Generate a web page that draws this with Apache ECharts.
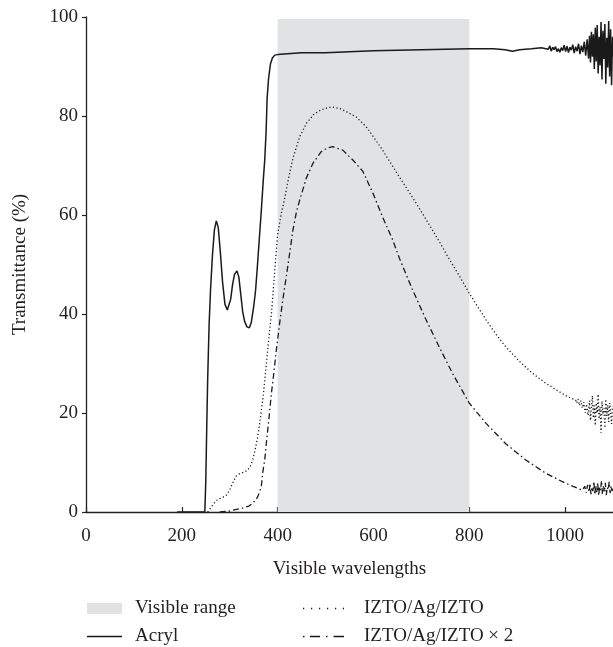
<!DOCTYPE html>
<html>
<head>
<meta charset="utf-8">
<script src="https://cdn.jsdelivr.net/npm/echarts@6/dist/echarts.min.js"></script>
<style>
html,body{margin:0;padding:0;background:#fff;}
#chart{width:613px;height:647px;}
</style>
</head>
<body>
<div id="chart"></div>
<script>
// ---- data ----
var seriesNames = ['Visible range', 'Acryl', 'IZTO/Ag/IZTO', 'IZTO/Ag/IZTO × 2'];
var visibleRange = [400, 800];
var xTickValues = [0, 200, 400, 600, 800, 1000];
var yTickValues = [0, 20, 40, 60, 80, 100];

var acrylX = [190,248,250,252,254,257,260,264,268,272,276,280,285,290,295,298,302,306,310,315,319,323,327,331,336,341,345,350,354,358,362,366,370,373,376,378,381,385,389,394,400,420,450,500,550,600,650,700,750,800,850,875,890,905,930,950,
  965,968,971,974,977,980,983,986,989,992,995,998,1001,1004,1007,1010,1013,1016,1019,1022,1025,1028,1031,1034,1037,1040,1043,1046,1049,1051,1053,1055,1057,1059,1061,1063,1065,1067,1069,1071,1073,1075,1077,1079,1081,1083,1085,1087,1089,1091,1093,1095,1097,1099,1100];
var acrylY = [0,0,6,17,27,38,45,52,57,58.8,57.5,53,46.5,42,40.8,41,43,46,48,48.7,47.5,44,40.5,38.5,37.4,37.2,38.3,41.5,44.8,50,55.5,61,67,71,77,83.5,87.5,90.5,91.7,92.3,92.4,92.6,92.8,92.8,93.0,93.2,93.3,93.4,93.5,93.6,93.6,93.4,93.1,93.4,93.6,93.8,
  93.5,94.2,93.1,93.9,93.4,94.0,93.0,93.6,92.9,93.8,93.2,94.3,93.0,94.1,92.8,93.9,93.3,94.4,92.7,94.0,93.1,94.6,92.5,94.2,92.9,95.0,92.2,95.5,91.6,96.2,90.8,97.0,92.0,96.5,89.5,97.8,91.0,98.4,88.6,96.0,90.2,99.0,87.4,97.2,91.5,98.6,86.5,95.8,89.8,99.2,88.0,97.5,86.2,96.0,92.0];

var iztoX = [254,260,265,272,279,286,293,300,307,313,320,328,335,342,348,353,358,362,366,370,374,378,382,387,391,395,400,407,415,423,432,446,460,475,490,505,515,530,545,564,585,600,619,636,654,672,689,706,723,740,755,778,800,818,835,855,876,904,932,960,988,1005,1022,
  1024,1027,1030,1033,1036,1039,1042,1045,1048,1051,1053,1055,1057,1059,1061,1063,1065,1067,1069,1071,1073,1075,1077,1079,1081,1083,1085,1087,1089,1091,1093,1095,1097,1099];
var iztoY = [0,0.8,1.5,2.3,2.7,3.0,3.4,4.5,6.0,7.2,7.7,8.0,8.3,9.0,10.5,12.5,15.0,17.5,20.5,23.5,27.5,31.5,35.5,40,45,50,56,60,63.5,67.5,71.5,75.8,78.5,80.3,81.2,81.7,81.8,81.5,80.8,79.8,77.8,75.8,73.1,70.5,67.7,65,62.4,59.7,57,54.2,51.6,47.9,44.2,41.4,38.8,36.0,33.4,30.5,28,26,24.3,23.3,22.6,
  22.0,22.8,21.5,22.5,21.0,22.2,20.0,21.8,19.5,22.5,18.5,21.0,23.5,19.0,21.5,17.5,22.0,20.0,23.8,18.8,21.2,16.0,22.4,19.8,21.0,17.0,22.8,19.4,21.6,18.2,22.0,20.2,17.8,21.4];

var izto2X = [279,300,307,327,340,348,354,358,362,366,369,373,377,382,387,392,397,404,411,421,432,439,446,460,474,491,505,515,536,557,578,599,619,640,654,682,710,737,765,800,835,876,918,960,1001,1036,
  1038,1041,1044,1047,1050,1052,1054,1056,1058,1060,1062,1064,1066,1068,1070,1072,1074,1076,1078,1080,1082,1084,1086,1088,1090,1092,1094,1096,1098,1100];
var izto2Y = [0,0.2,0.4,0.8,1.2,1.8,2.4,3,4,5.2,8,10.5,14.5,19,24,28,32.5,38,43,49.5,57,60.5,63,67.5,70.5,72.8,73.6,73.8,73.1,71.1,68.8,64.4,59.6,55,51.3,44.8,38.8,33.4,28,22,17.9,13.8,10.5,7.8,5.8,4.4,
  4.6,5.2,3.9,5.5,4.0,5.8,3.6,5.0,4.2,6.2,3.5,5.4,4.0,6.0,3.3,5.1,4.4,6.3,3.6,5.2,4.1,5.9,3.4,5.0,4.5,6.1,3.8,5.3,4.2,5.0];

function pairs(xs, ys) { return xs.map(function (x, i) { return [x, ys[i]]; }); }

// ---- chart ----
var FONT = 'Liberation Serif';
var TXT = '#231f20';
var LINE = '#1a1a1a';
var SHADE = '#e1e2e4';
var chart = echarts.init(document.getElementById('chart'), null, {renderer: 'canvas'});

function lg(name, left, top, w, h, icon, pad) {
  return {
    data: [{name: name, icon: icon}],
    left: left, top: top, orient: 'vertical',
    itemWidth: w, itemHeight: h, padding: 0,
    selectedMode: false,
    itemStyle: {borderWidth: 0},
    textStyle: {fontFamily: FONT, fontSize: 19, color: TXT, padding: [0, 0, 0, pad]}
  };
}

var option = {
  animation: false,
  backgroundColor: '#fff',
  grid: {left: 86, top: 17, width: 528, height: 495, containLabel: false},
  xAxis: {
    type: 'value', min: 0, max: 1100, interval: 200,
    name: 'Visible wavelengths', nameLocation: 'middle', nameGap: 48,
    nameTextStyle: {fontFamily: FONT, fontSize: 19, color: TXT},
    axisLine: {lineStyle: {color: '#222', width: 1.3}},
    axisTick: {inside: true, length: 5, lineStyle: {color: '#222', width: 1.2}},
    axisLabel: {fontFamily: FONT, fontSize: 19, color: TXT, margin: 15, showMaxLabel: false,
      formatter: function (v) { return xTickValues.indexOf(v) >= 0 ? String(v) : ''; }},
    splitLine: {show: false}
  },
  yAxis: {
    type: 'value', min: 0, max: 100, interval: 20,
    name: 'Transmittance (%)', nameLocation: 'middle', nameGap: 56,
    nameTextStyle: {fontFamily: FONT, fontSize: 19, color: TXT},
    axisLine: {show: true, lineStyle: {color: '#222', width: 1.3}},
    axisTick: {show: true, inside: false, length: 4, lineStyle: {color: '#222', width: 1.2}},
    axisLabel: {fontFamily: FONT, fontSize: 19, color: TXT, margin: 8,
      formatter: function (v) { return yTickValues.indexOf(v) >= 0 ? String(v) : ''; }},
    splitLine: {show: false}
  },
  legend: [
    lg(seriesNames[0], 87, 599, 35, 11, 'rect', 8),
    lg(seriesNames[1], 87, 627, 35, 1.5, 'path://M0,0h35v1.5h-35z', 8),
    lg(seriesNames[2], 303, 599, 41, 1.4, 'path://M0,0h1.2v1.4h-1.2zM8,0h1.2v1.4h-1.2zM16,0h1.2v1.4h-1.2zM24,0h1.2v1.4h-1.2zM32,0h1.2v1.4h-1.2zM39.8,0h1.2v1.4h-1.2z', 15),
    lg(seriesNames[3], 303, 627, 41, 1.4, 'path://M0,0h1.5v1.4h-1.5zM7,0h10v1.4h-10zM23,0h1.5v1.4h-1.5zM30.5,0h10.5v1.4h-10.5z', 15)
  ],
  series: [
    {
      name: seriesNames[0], type: 'line', data: [], color: SHADE, silent: true,
      markArea: {
        silent: true,
        itemStyle: {color: SHADE},
        data: [[{xAxis: visibleRange[0], yAxis: 0}, {xAxis: visibleRange[1], yAxis: 99.6}]]
      }
    },
    {
      name: seriesNames[1], type: 'line', data: pairs(acrylX, acrylY), color: LINE,
      symbol: 'none', lineStyle: {color: LINE, width: 1.5}
    },
    {
      name: seriesNames[2], type: 'line', data: pairs(iztoX, iztoY), color: LINE,
      symbol: 'none', lineStyle: {color: LINE, width: 1.3, type: [1.2, 2.4]}
    },
    {
      name: seriesNames[3], type: 'line', data: pairs(izto2X, izto2Y), color: LINE,
      symbol: 'none', lineStyle: {color: LINE, width: 1.3, type: [6, 3, 1.5, 3]}
    }
  ]
};
chart.setOption(option);
</script>
</body>
</html>
